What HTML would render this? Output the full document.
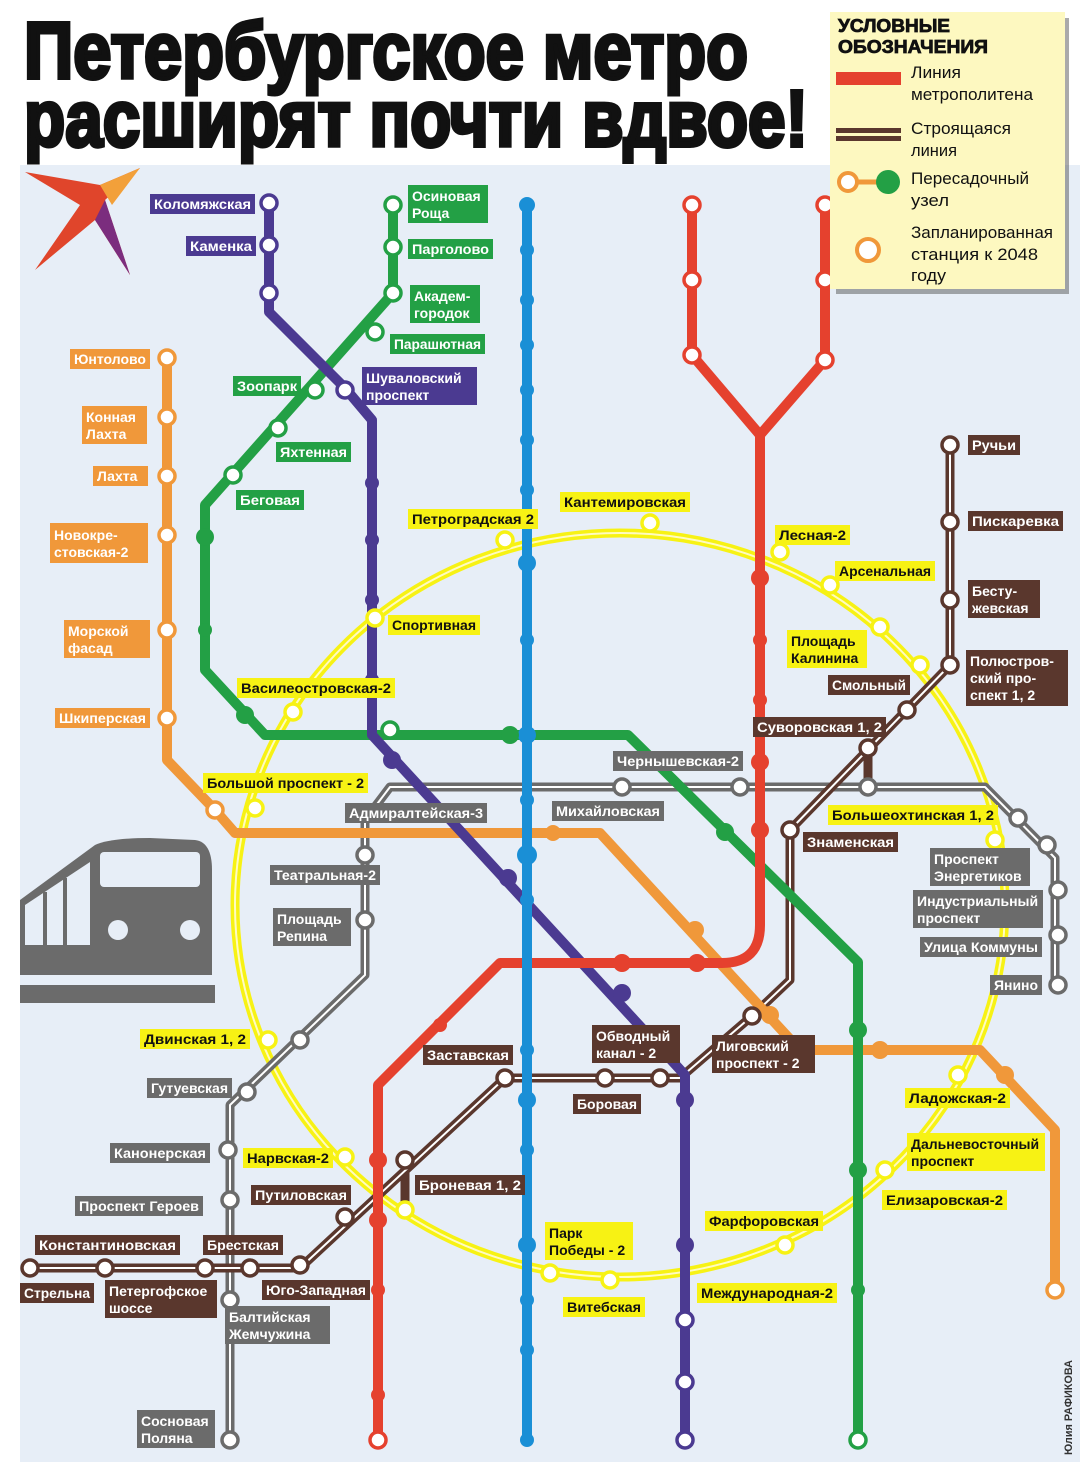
<!DOCTYPE html>
<html><head><meta charset="utf-8"><style>
html,body{margin:0;padding:0;background:#fff}
svg{display:block}
text{font-family:"Liberation Sans",sans-serif;font-weight:bold}
.l text{font-size:14px}
.n text{font-weight:normal}
</style></head><body>
<svg width="1080" height="1462" viewBox="0 0 1080 1462" xmlns="http://www.w3.org/2000/svg">
<rect x="0" y="0" width="1080" height="1462" fill="#fff"/>
<rect x="20" y="165" width="1060" height="1297" fill="#e7eef7"/>
<!-- title -->
<text x="24" y="78" font-size="80" textLength="724" lengthAdjust="spacingAndGlyphs" fill="#111" stroke="#111" stroke-width="4">Петербургское метро</text>
<text x="24" y="146" font-size="80" textLength="784" lengthAdjust="spacingAndGlyphs" fill="#111" stroke="#111" stroke-width="4">расширят почти вдвое!</text>
<!-- logo -->
<polygon points="25,172 100,185 140,168 105,200 130,275 95,220 35,270 80,205" fill="#e0452b"/>
<polygon points="100,185 140,168 112,205" fill="#f2a03a"/>
<polygon points="95,220 130,275 105,200" fill="#7b2d7e"/>
<!-- train -->
<g fill="#6b6b6b">
<path d="M20,900 L95,845 Q110,838 150,838 L195,840 Q212,842 212,870 L212,975 L20,975 Z"/>
<rect x="20" y="985" width="195" height="18"/>
</g>
<rect x="100" y="852" width="100" height="35" rx="4" fill="#e7eef7"/>
<polygon points="25,905 90,862 90,945 25,945" fill="#e7eef7"/>
<circle cx="118" cy="930" r="10" fill="#e7eef7"/><circle cx="190" cy="930" r="10" fill="#e7eef7"/>
<g stroke="#6b6b6b" stroke-width="4"><line x1="45" y1="892" x2="45" y2="945"/><line x1="65" y1="878" x2="65" y2="945"/></g>

<!-- yellow ring -->
<ellipse cx="620" cy="905" rx="385" ry="372" fill="none" stroke="#f7f214" stroke-width="9"/>
<ellipse cx="620" cy="905" rx="385" ry="372" fill="none" stroke="#fffbc0" stroke-width="2"/>

<g fill="none" stroke-linejoin="round" stroke-linecap="round">
<path d="M230,1440 V1105 L365,975 V820 L390,787 H985 L1055,858 V985" stroke="#6b6b6b" stroke-width="9"/>
<path d="M230,1440 V1105 L365,975 V820 L390,787 H985 L1055,858 V985" stroke="#fff" stroke-width="2"/>
<path d="M30,1268 H300 L505,1078 H680 L752,1016 L790,980 V830 L950,665 V445 M868,748 V787 M405,1160 V1210" stroke="#5a372d" stroke-width="9"/>
<path d="M30,1268 H300 L505,1078 H680 L752,1016 L790,980 V830 L950,665 V445" stroke="#fff" stroke-width="2"/>
<path d="M167,358 V760 L215,810 L235,833 H600 L800,1050 H980 L1055,1130 V1290" stroke="#f0983a" stroke-width="10"/>
<path d="M393,205 V293 L205,505 V670 L265,735 H628 L858,962 V1440" stroke="#23a045" stroke-width="10"/>
<path d="M269,203 V312 L345,388 L372,420 V735 L685,1075 V1440" stroke="#4b3a91" stroke-width="10"/>
<path d="M692,205 V355 L760,435 M825,205 V360 L760,435 V925 Q760,963 722,963 H500 L378,1085 V1440" stroke="#e5412e" stroke-width="10"/>
<path d="M527,205 V1440" stroke="#1a8fd6" stroke-width="10"/>
</g>

<g fill="#1a8fd6"><circle cx="527" cy="205" r="8"/><circle cx="527" cy="250" r="7"/><circle cx="527" cy="300" r="7"/><circle cx="527" cy="345" r="7"/><circle cx="527" cy="390" r="7"/><circle cx="527" cy="440" r="7"/><circle cx="527" cy="490" r="7"/><circle cx="527" cy="563" r="9"/><circle cx="527" cy="640" r="7"/><circle cx="527" cy="735" r="9"/><circle cx="527" cy="800" r="7"/><circle cx="527" cy="855" r="10"/><circle cx="527" cy="900" r="7"/><circle cx="527" cy="1050" r="7"/><circle cx="527" cy="1100" r="9"/><circle cx="527" cy="1150" r="7"/><circle cx="527" cy="1245" r="9"/><circle cx="527" cy="1300" r="7"/><circle cx="527" cy="1350" r="7"/><circle cx="527" cy="1440" r="7"/></g>
<g fill="#e5412e"><circle cx="760" cy="578" r="9"/><circle cx="760" cy="640" r="7"/><circle cx="760" cy="700" r="7"/><circle cx="760" cy="762" r="9"/><circle cx="760" cy="830" r="9"/><circle cx="622" cy="963" r="9"/><circle cx="697" cy="963" r="9"/><circle cx="440" cy="1025" r="7"/><circle cx="378" cy="1160" r="9"/><circle cx="378" cy="1220" r="9"/><circle cx="378" cy="1290" r="7"/><circle cx="378" cy="1395" r="7"/></g>
<g fill="#23a045"><circle cx="205" cy="537" r="9"/><circle cx="205" cy="630" r="7"/><circle cx="245" cy="715" r="9"/><circle cx="510" cy="735" r="9"/><circle cx="725" cy="832" r="9"/><circle cx="858" cy="1030" r="9"/><circle cx="858" cy="1170" r="9"/><circle cx="858" cy="1290" r="7"/></g>
<g fill="#4b3a91"><circle cx="372" cy="483" r="7"/><circle cx="372" cy="540" r="7"/><circle cx="372" cy="600" r="7"/><circle cx="372" cy="680" r="7"/><circle cx="392" cy="760" r="9"/><circle cx="508" cy="878" r="9"/><circle cx="622" cy="993" r="9"/><circle cx="685" cy="1100" r="9"/><circle cx="685" cy="1245" r="9"/></g>
<g fill="#f0983a"><circle cx="553" cy="833" r="8"/><circle cx="695" cy="930" r="9"/><circle cx="770" cy="1015" r="9"/><circle cx="880" cy="1050" r="9"/><circle cx="1005" cy="1075" r="9"/></g>

<g fill="#fff" stroke-width="3.5">
<g stroke="#4b3a91"><circle cx="269" cy="203" r="8"/><circle cx="269" cy="245" r="8"/><circle cx="269" cy="293" r="8"/><circle cx="345" cy="390" r="8"/><circle cx="685" cy="1320" r="8"/><circle cx="685" cy="1382" r="8"/><circle cx="685" cy="1440" r="8"/></g>
<g stroke="#23a045"><circle cx="393" cy="205" r="8"/><circle cx="393" cy="247" r="8"/><circle cx="393" cy="293" r="8"/><circle cx="375" cy="332" r="8"/><circle cx="315" cy="390" r="8"/><circle cx="278" cy="428" r="8"/><circle cx="233" cy="475" r="8"/><circle cx="390" cy="730" r="8"/><circle cx="858" cy="1440" r="8"/></g>
<g stroke="#e5412e"><circle cx="692" cy="205" r="8"/><circle cx="692" cy="280" r="8"/><circle cx="692" cy="355" r="8"/><circle cx="825" cy="205" r="8"/><circle cx="825" cy="280" r="8"/><circle cx="825" cy="360" r="8"/><circle cx="378" cy="1440" r="8"/></g>
<g stroke="#f0983a"><circle cx="167" cy="358" r="8"/><circle cx="167" cy="417" r="8"/><circle cx="167" cy="476" r="8"/><circle cx="167" cy="535" r="8"/><circle cx="167" cy="630" r="8"/><circle cx="167" cy="718" r="8"/><circle cx="215" cy="810" r="8"/><circle cx="1055" cy="1290" r="8"/></g>
<g stroke="#f7f214"><circle cx="505" cy="540" r="8"/><circle cx="650" cy="523" r="8"/><circle cx="780" cy="552" r="8"/><circle cx="830" cy="585" r="8"/><circle cx="880" cy="627" r="8"/><circle cx="920" cy="665" r="8"/><circle cx="995" cy="840" r="8"/><circle cx="958" cy="1075" r="8"/><circle cx="885" cy="1170" r="8"/><circle cx="785" cy="1245" r="8"/><circle cx="610" cy="1280" r="8"/><circle cx="550" cy="1273" r="8"/><circle cx="405" cy="1210" r="8"/><circle cx="345" cy="1157" r="8"/><circle cx="268" cy="1040" r="8"/><circle cx="255" cy="808" r="8"/><circle cx="293" cy="712" r="8"/><circle cx="375" cy="618" r="8"/></g>
<g stroke="#6b6b6b"><circle cx="230" cy="1440" r="8"/><circle cx="230" cy="1300" r="8"/><circle cx="230" cy="1200" r="8"/><circle cx="228" cy="1150" r="8"/><circle cx="247" cy="1092" r="8"/><circle cx="300" cy="1040" r="8"/><circle cx="365" cy="920" r="8"/><circle cx="365" cy="855" r="8"/><circle cx="622" cy="787" r="8"/><circle cx="740" cy="787" r="8"/><circle cx="868" cy="787" r="8"/><circle cx="1018" cy="818" r="8"/><circle cx="1047" cy="845" r="8"/><circle cx="1058" cy="890" r="8"/><circle cx="1058" cy="935" r="8"/><circle cx="1058" cy="985" r="8"/></g>
<g stroke="#5a372d"><circle cx="30" cy="1268" r="8"/><circle cx="105" cy="1268" r="8"/><circle cx="205" cy="1268" r="8"/><circle cx="250" cy="1268" r="8"/><circle cx="300" cy="1265" r="8"/><circle cx="345" cy="1217" r="8"/><circle cx="405" cy="1160" r="8"/><circle cx="505" cy="1078" r="8"/><circle cx="605" cy="1078" r="8"/><circle cx="660" cy="1078" r="8"/><circle cx="752" cy="1016" r="8"/><circle cx="790" cy="830" r="8"/><circle cx="868" cy="748" r="8"/><circle cx="907" cy="710" r="8"/><circle cx="950" cy="665" r="8"/><circle cx="950" cy="600" r="8"/><circle cx="950" cy="522" r="8"/><circle cx="950" cy="445" r="8"/></g>
</g>

<g class="l">
<g fill="#4b3a91"><rect x="150" y="194" width="105" height="20"/><rect x="186" y="236" width="70" height="20"/><rect x="362" y="367" width="115" height="38"/></g>
<g fill="#fff"><text x="154" y="209" textLength="97" lengthAdjust="spacingAndGlyphs">Коломяжская</text><text x="190" y="251" textLength="62" lengthAdjust="spacingAndGlyphs">Каменка</text><text x="366" y="383">Шуваловский</text><text x="366" y="400">проспект</text></g>
<g fill="#23a045"><rect x="408" y="185" width="80" height="38"/><rect x="408" y="239" width="85" height="20"/><rect x="410" y="285" width="70" height="38"/><rect x="390" y="334" width="95" height="20"/><rect x="233" y="376" width="68" height="20"/><rect x="276" y="442" width="75" height="20"/><rect x="236" y="490" width="68" height="20"/></g>
<g fill="#fff"><text x="412" y="201">Осиновая</text><text x="412" y="218">Роща</text><text x="412" y="254" textLength="77" lengthAdjust="spacingAndGlyphs">Парголово</text><text x="414" y="301">Академ-</text><text x="414" y="318">городок</text><text x="394" y="349" textLength="87" lengthAdjust="spacingAndGlyphs">Парашютная</text><text x="237" y="391" textLength="60" lengthAdjust="spacingAndGlyphs">Зоопарк</text><text x="280" y="457" textLength="67" lengthAdjust="spacingAndGlyphs">Яхтенная</text><text x="240" y="505" textLength="60" lengthAdjust="spacingAndGlyphs">Беговая</text></g>
<g fill="#f0983a"><rect x="70" y="349" width="80" height="20"/><rect x="82" y="406" width="65" height="38"/><rect x="93" y="466" width="55" height="20"/><rect x="50" y="523" width="98" height="40"/><rect x="64" y="620" width="86" height="38"/><rect x="55" y="708" width="95" height="20"/></g>
<g fill="#fff"><text x="74" y="364" textLength="72" lengthAdjust="spacingAndGlyphs">Юнтолово</text><text x="86" y="422">Конная</text><text x="86" y="439">Лахта</text><text x="97" y="481">Лахта</text><text x="54" y="540">Новокре-</text><text x="54" y="557">стовская-2</text><text x="68" y="636">Морской</text><text x="68" y="653">фасад</text><text x="59" y="723" textLength="87" lengthAdjust="spacingAndGlyphs">Шкиперская</text></g>
<g fill="#f7f214"><rect x="408" y="509" width="130" height="20"/><rect x="560" y="492" width="130" height="20"/><rect x="775" y="525" width="75" height="20"/><rect x="835" y="561" width="100" height="20"/><rect x="787" y="630" width="80" height="38"/><rect x="237" y="678" width="158" height="20"/><rect x="388" y="615" width="92" height="20"/><rect x="203" y="773" width="165" height="20"/><rect x="828" y="805" width="170" height="20"/><rect x="140" y="1029" width="110" height="20"/><rect x="243" y="1148" width="90" height="20"/><rect x="905" y="1088" width="105" height="20"/><rect x="907" y="1133" width="138" height="38"/><rect x="882" y="1190" width="125" height="20"/><rect x="705" y="1211" width="118" height="20"/><rect x="545" y="1222" width="88" height="38"/><rect x="563" y="1297" width="82" height="20"/><rect x="697" y="1283" width="140" height="20"/></g>
<g fill="#111"><text x="412" y="524" textLength="122" lengthAdjust="spacingAndGlyphs">Петроградская 2</text><text x="564" y="507" textLength="122" lengthAdjust="spacingAndGlyphs">Кантемировская</text><text x="779" y="540" textLength="67" lengthAdjust="spacingAndGlyphs">Лесная-2</text><text x="839" y="576" textLength="92" lengthAdjust="spacingAndGlyphs">Арсенальная</text><text x="791" y="646">Площадь</text><text x="791" y="663">Калинина</text><text x="241" y="693" textLength="150" lengthAdjust="spacingAndGlyphs">Василеостровская-2</text><text x="392" y="630" textLength="84" lengthAdjust="spacingAndGlyphs">Спортивная</text><text x="207" y="788" textLength="157" lengthAdjust="spacingAndGlyphs">Большой проспект - 2</text><text x="832" y="820" textLength="162" lengthAdjust="spacingAndGlyphs">Большеохтинская 1, 2</text><text x="144" y="1044" textLength="102" lengthAdjust="spacingAndGlyphs">Двинская 1, 2</text><text x="247" y="1163" textLength="82" lengthAdjust="spacingAndGlyphs">Нарвская-2</text><text x="909" y="1103" textLength="97" lengthAdjust="spacingAndGlyphs">Ладожская-2</text><text x="911" y="1149">Дальневосточный</text><text x="911" y="1166">проспект</text><text x="886" y="1205" textLength="117" lengthAdjust="spacingAndGlyphs">Елизаровская-2</text><text x="709" y="1226" textLength="110" lengthAdjust="spacingAndGlyphs">Фарфоровская</text><text x="549" y="1238">Парк</text><text x="549" y="1255">Победы - 2</text><text x="567" y="1312" textLength="74" lengthAdjust="spacingAndGlyphs">Витебская</text><text x="701" y="1298" textLength="132" lengthAdjust="spacingAndGlyphs">Международная-2</text></g>
<g fill="#6b6b6b"><rect x="613" y="751" width="130" height="20"/><rect x="345" y="803" width="142" height="20"/><rect x="552" y="801" width="112" height="20"/><rect x="270" y="865" width="110" height="20"/><rect x="273" y="908" width="78" height="38"/><rect x="930" y="848" width="100" height="38"/><rect x="913" y="890" width="130" height="38"/><rect x="920" y="937" width="122" height="20"/><rect x="990" y="975" width="52" height="20"/><rect x="147" y="1078" width="85" height="20"/><rect x="110" y="1143" width="100" height="20"/><rect x="75" y="1196" width="128" height="20"/><rect x="225" y="1306" width="105" height="38"/><rect x="137" y="1410" width="78" height="38"/></g>
<g fill="#fff"><text x="617" y="766" textLength="122" lengthAdjust="spacingAndGlyphs">Чернышевская-2</text><text x="349" y="818" textLength="134" lengthAdjust="spacingAndGlyphs">Адмиралтейская-3</text><text x="556" y="816" textLength="104" lengthAdjust="spacingAndGlyphs">Михайловская</text><text x="274" y="880" textLength="102" lengthAdjust="spacingAndGlyphs">Театральная-2</text><text x="277" y="924">Площадь</text><text x="277" y="941">Репина</text><text x="934" y="864">Проспект</text><text x="934" y="881">Энергетиков</text><text x="917" y="906">Индустриальный</text><text x="917" y="923">проспект</text><text x="924" y="952" textLength="114" lengthAdjust="spacingAndGlyphs">Улица Коммуны</text><text x="994" y="990" textLength="44" lengthAdjust="spacingAndGlyphs">Янино</text><text x="151" y="1093" textLength="77" lengthAdjust="spacingAndGlyphs">Гутуевская</text><text x="114" y="1158" textLength="92" lengthAdjust="spacingAndGlyphs">Канонерская</text><text x="79" y="1211" textLength="120" lengthAdjust="spacingAndGlyphs">Проспект Героев</text><text x="229" y="1322">Балтийская</text><text x="229" y="1339">Жемчужина</text><text x="141" y="1426">Сосновая</text><text x="141" y="1443">Поляна</text></g>
<g fill="#5a372d"><rect x="968" y="435" width="52" height="20"/><rect x="968" y="511" width="95" height="20"/><rect x="968" y="580" width="72" height="38"/><rect x="966" y="650" width="102" height="56"/><rect x="828" y="675" width="82" height="20"/><rect x="753" y="717" width="133" height="20"/><rect x="803" y="832" width="95" height="20"/><rect x="592" y="1025" width="88" height="38"/><rect x="712" y="1035" width="103" height="38"/><rect x="423" y="1045" width="90" height="20"/><rect x="573" y="1094" width="68" height="20"/><rect x="415" y="1175" width="110" height="20"/><rect x="251" y="1185" width="100" height="20"/><rect x="203" y="1235" width="80" height="20"/><rect x="35" y="1235" width="145" height="20"/><rect x="20" y="1283" width="74" height="20"/><rect x="105" y="1280" width="112" height="38"/><rect x="262" y="1280" width="108" height="20"/></g>
<g fill="#fff"><text x="972" y="450" textLength="44" lengthAdjust="spacingAndGlyphs">Ручьи</text><text x="972" y="526" textLength="87" lengthAdjust="spacingAndGlyphs">Пискаревка</text><text x="972" y="596">Бесту-</text><text x="972" y="613">жевская</text><text x="970" y="666">Полюстров-</text><text x="970" y="683">ский про-</text><text x="970" y="700">спект 1, 2</text><text x="832" y="690" textLength="74" lengthAdjust="spacingAndGlyphs">Смольный</text><text x="757" y="732" textLength="125" lengthAdjust="spacingAndGlyphs">Суворовская 1, 2</text><text x="807" y="847" textLength="87" lengthAdjust="spacingAndGlyphs">Знаменская</text><text x="596" y="1041">Обводный</text><text x="596" y="1058">канал - 2</text><text x="716" y="1051">Лиговский</text><text x="716" y="1068">проспект - 2</text><text x="427" y="1060" textLength="82" lengthAdjust="spacingAndGlyphs">Заставская</text><text x="577" y="1109" textLength="60" lengthAdjust="spacingAndGlyphs">Боровая</text><text x="419" y="1190" textLength="102" lengthAdjust="spacingAndGlyphs">Броневая 1, 2</text><text x="255" y="1200" textLength="92" lengthAdjust="spacingAndGlyphs">Путиловская</text><text x="207" y="1250" textLength="72" lengthAdjust="spacingAndGlyphs">Брестская</text><text x="39" y="1250" textLength="137" lengthAdjust="spacingAndGlyphs">Константиновская</text><text x="24" y="1298" textLength="66" lengthAdjust="spacingAndGlyphs">Стрельна</text><text x="109" y="1296">Петергофское</text><text x="109" y="1313">шоссе</text><text x="266" y="1295" textLength="100" lengthAdjust="spacingAndGlyphs">Юго-Западная</text></g>
</g>

<!-- legend -->
<rect x="836" y="18" width="233" height="276" fill="#555" opacity="0.5"/>
<rect x="830" y="12" width="235" height="277" fill="#fdf8c0"/>
<text x="838" y="32" font-size="18" fill="#111" stroke="#111" stroke-width="0.8" textLength="112" lengthAdjust="spacingAndGlyphs">УСЛОВНЫЕ</text>
<text x="838" y="53" font-size="18" fill="#111" stroke="#111" stroke-width="0.8" textLength="150" lengthAdjust="spacingAndGlyphs">ОБОЗНАЧЕНИЯ</text>
<rect x="836" y="72" width="65" height="13" fill="#e5412e"/>
<rect x="836" y="128" width="65" height="5" fill="#5a372d"/><rect x="836" y="136" width="65" height="5" fill="#5a372d"/>
<line x1="855" y1="182" x2="880" y2="182" stroke="#f0983a" stroke-width="5"/>
<circle cx="848" cy="182" r="9" fill="#fff" stroke="#f0983a" stroke-width="4"/>
<circle cx="888" cy="182" r="12" fill="#23a045"/>
<circle cx="868" cy="250" r="11" fill="#fff" stroke="#f0983a" stroke-width="4"/>
<g class="n" font-size="17" fill="#111">
<text x="911" y="78" textLength="50" lengthAdjust="spacingAndGlyphs">Линия</text><text x="911" y="100" textLength="122" lengthAdjust="spacingAndGlyphs">метрополитена</text>
<text x="911" y="134" textLength="100" lengthAdjust="spacingAndGlyphs">Строящаяся</text><text x="911" y="156" textLength="46" lengthAdjust="spacingAndGlyphs">линия</text>
<text x="911" y="184" textLength="118" lengthAdjust="spacingAndGlyphs">Пересадочный</text><text x="911" y="206" textLength="38" lengthAdjust="spacingAndGlyphs">узел</text>
<text x="911" y="238" textLength="142" lengthAdjust="spacingAndGlyphs">Запланированная</text><text x="911" y="260" textLength="127" lengthAdjust="spacingAndGlyphs">станция к 2048</text><text x="911" y="281" textLength="35" lengthAdjust="spacingAndGlyphs">году</text>
</g>
<text transform="translate(1072,1455) rotate(-90)" font-size="11" fill="#333" textLength="95" lengthAdjust="spacingAndGlyphs">Юлия РАФИКОВА</text>
</svg>
</body></html>
